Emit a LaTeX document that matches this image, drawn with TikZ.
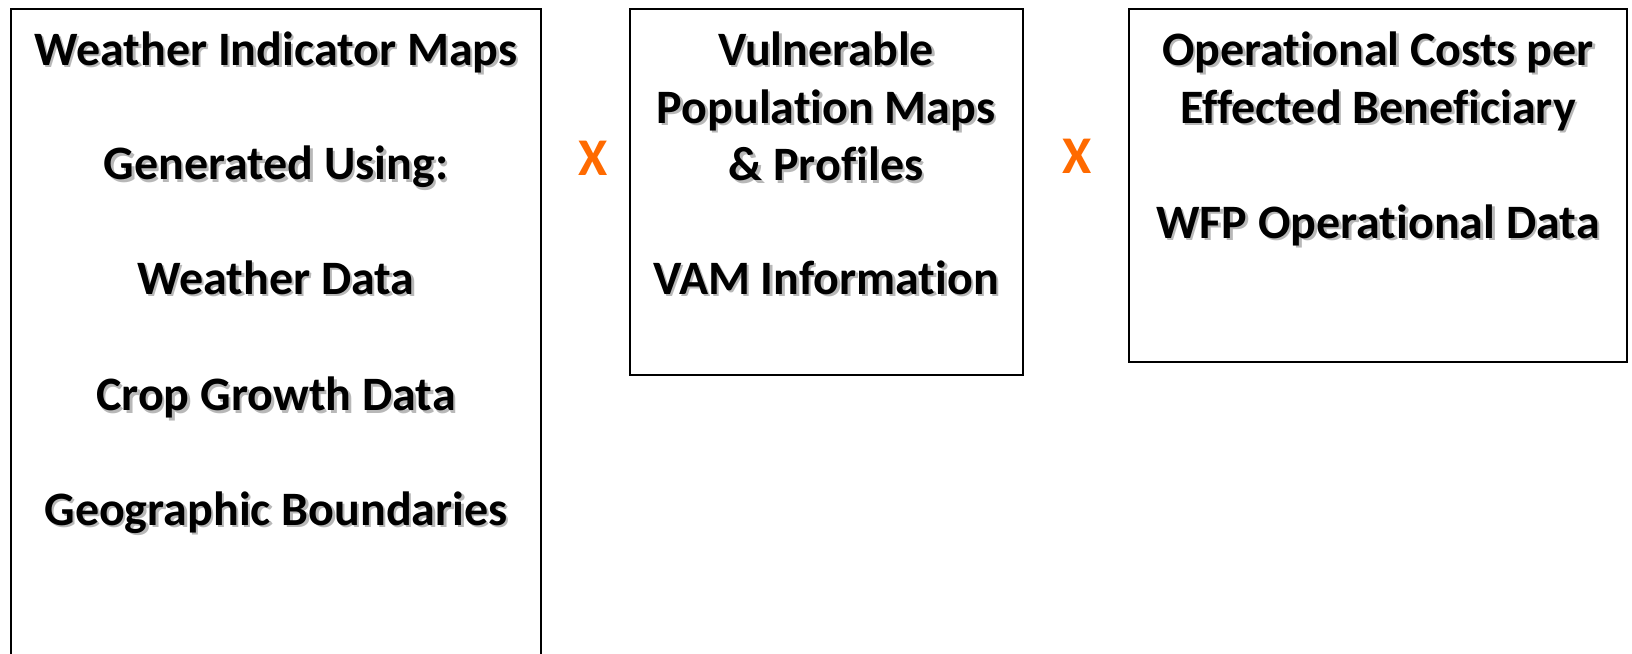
\documentclass[tikz,border=0pt]{standalone}
\usepackage{fontspec}
\setmainfont{Carlito}[Ligatures=NoCommon]
\definecolor{xorange}{HTML}{FF6A00}
% text with a soft grey drop shadow
\newcommand{\shd}[1]{\rlap{\kern2.5pt\raisebox{-2.5pt}{\textcolor{black!28}{#1}}}#1}

\begin{document}
\begin{tikzpicture}[x=1pt,y=-1pt,
  boxline/.style={black, line width=2pt},
  lbl/.style={font=\fontsize{48}{56}\selectfont\bfseries, inner sep=0pt, anchor=base},
  times/.style={font=\fontsize{53}{60}\selectfont\bfseries, text=xorange, inner sep=0pt}]
\useasboundingbox (0,0) rectangle (1632,653);
% boxes
\draw[boxline] (10.5,660) -- (10.5,8.5) -- (541,8.5) -- (541,660);
\draw[boxline] (630,8.5) rectangle (1023,375);
\draw[boxline] (1129,8.5) rectangle (1627,362);
% left box
\node[lbl] (wim)   at (276,65)    {\shd{Weather Indicator Maps}};
\node[lbl] (gen)   at (276,179.5) {\shd{Generated Using:}};
\node[lbl] (wdata) at (276,294)   {\shd{Weather Data}};
\node[lbl] (crop)  at (276,410.5) {\shd{Crop Growth Data}};
\node[lbl] (geo)   at (276,525)   {\shd{Geographic Boundaries}};
% middle box
\node[lbl] (vul)  at (826,65)    {\shd{Vulnerable}};
\node[lbl] (pop)  at (826,123)   {\shd{Population Maps}};
\node[lbl] (prof) at (826,180.5) {\shd{\& Profiles}};
\node[lbl] (vam)  at (826,294)   {\shd{VAM Information}};
% right box
\node[lbl] (opc) at (1378,65)  {\shd{Operational Costs per}};
\node[lbl] (eff) at (1378,123) {\shd{Effected Beneficiary}};
\node[lbl] (wfp) at (1378,238) {\shd{WFP Operational Data}};
% multiply signs
\node[times] (x1) at (593,158) {X};
\node[times] (x2) at (1077,156) {X};
\end{tikzpicture}
\end{document}
